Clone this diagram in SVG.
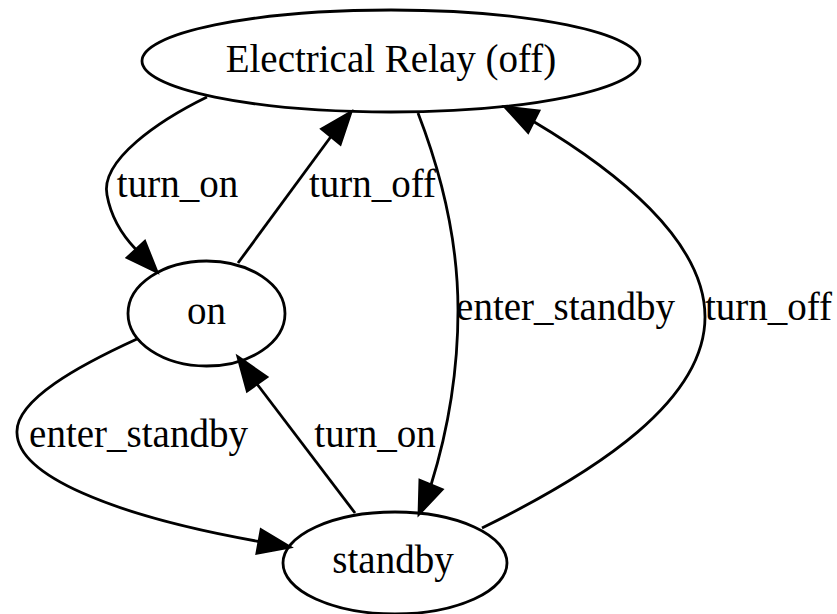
<svg xmlns="http://www.w3.org/2000/svg" width="837" height="614" viewBox="0 0 837 614">
<style>
.node ellipse{fill:none;stroke:#000;stroke-width:2.8}
text{font-family:"Liberation Serif","Times New Roman",serif;font-size:39px;fill:#000;text-anchor:middle}
.edge path{fill:none;stroke:#000;stroke-width:2.8}
.edge polygon{fill:#000;stroke:#000;stroke-width:2.8;stroke-linejoin:miter}
</style>
<rect width="837" height="614" fill="#fff"/>
<g id="node_relay" class="node">
<ellipse cx="391" cy="61" rx="249" ry="51"/>
<text x="391" y="72">Electrical Relay (off)</text>
</g>
<g id="node_on" class="node">
<ellipse cx="206.5" cy="313.5" rx="78.5" ry="52.5"/>
<text x="206.5" y="324">on</text>
</g>
<g id="node_standby" class="node">
<ellipse cx="395" cy="563" rx="112" ry="51"/>
<text x="393" y="573">standby</text>
</g>
<g id="connectors">
<g class="edge" id="e_relay_on">
<path d="M207,97 C160,120 100,160 107,195 C111,217 122,235 136,249.5"/>
<polygon points="157,272 127.2,257.7 144.8,241.3"/>
<text x="177.5" y="197">turn_on</text>
</g>
<g class="edge" id="e_on_relay">
<path d="M238,263 L331,136.5"/>
<polygon points="351,112 340.3,144.1 321.7,128.9"/>
<text x="372.5" y="197">turn_off</text>
</g>
<g class="edge" id="e_relay_standby">
<path d="M418,113 C440,170 458,240 458,310 C458,380 445,440 431,485"/>
<polygon points="419,514 442.1,489.6 419.9,480.4"/>
<text x="565.5" y="320">enter_standby</text>
</g>
<g class="edge" id="e_standby_relay">
<path d="M482,528 C600,470 705,400 705,317 C705,240 615,170 533.5,121.5"/>
<polygon points="505,107 538.9,110.8 528.1,132.2"/>
<text x="768.5" y="320">turn_off</text>
</g>
<g class="edge" id="e_on_standby">
<path d="M137,339 C80,365 15,400 17,433 C18,475 110,515 259,541.5"/>
<polygon points="290,547 256.9,553.3 261.1,529.7"/>
<text x="138.5" y="447">enter_standby</text>
</g>
<g class="edge" id="e_standby_on">
<path d="M355,513 L257,384"/>
<polygon points="238,357 266.8,377.1 247.2,390.9"/>
<text x="375" y="447">turn_on</text>
</g>
</g>
</svg>
